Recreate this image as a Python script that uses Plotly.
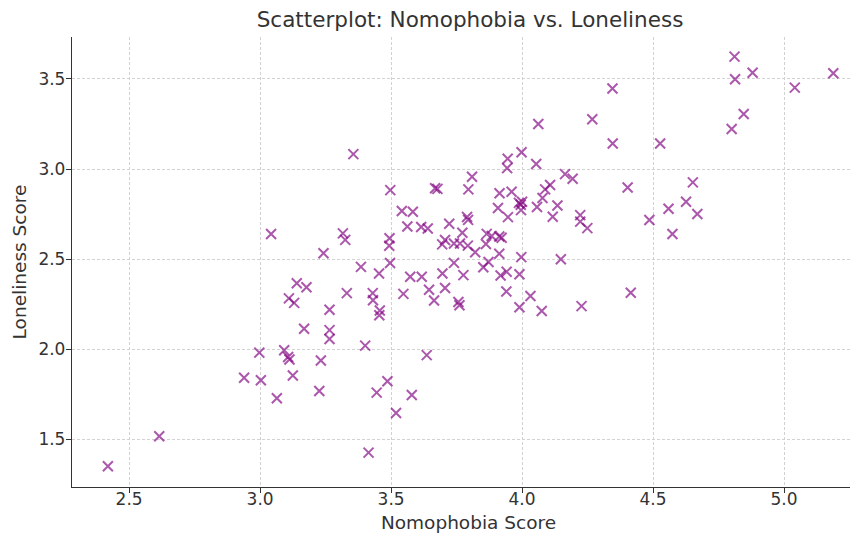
import plotly.graph_objects as go

nomophobia = [
    2.419, 2.615, 2.939, 3.003, 2.997, 3.064, 3.092, 3.107, 3.112, 3.125,
    3.226, 3.232, 3.414, 3.519, 3.579, 3.445, 3.486, 3.636, 3.401, 3.168,
    3.265, 3.265, 3.265, 3.110, 3.130, 3.140, 3.177, 3.242, 3.042, 3.316,
    3.325, 3.331, 3.385, 3.430, 3.431, 3.454, 3.457, 3.455, 3.356, 3.497,
    3.494, 3.493, 3.496, 3.541, 3.583, 3.562, 3.615, 3.640, 3.547, 3.573,
    3.617, 3.645, 3.664, 3.757, 3.761, 3.668, 3.677, 3.722, 3.706, 3.695,
    3.696, 3.706, 3.740, 3.763, 3.740, 3.772, 3.776, 3.790, 3.794, 3.793,
    3.809, 3.795, 3.821, 3.865, 3.884, 3.913, 3.922, 3.862, 3.913, 3.872,
    3.852, 3.941, 3.918, 3.990, 3.997, 3.940, 4.032, 3.990, 4.075, 3.914,
    3.960, 3.908, 3.946, 3.945, 3.943, 3.998, 4.054, 4.062, 3.988, 3.995,
    4.000, 3.996, 4.057, 4.078, 4.088, 4.107, 4.135, 4.117, 4.164, 4.193,
    4.148, 4.222, 4.222, 4.249, 4.227, 4.268, 4.345, 4.346, 4.403, 4.415,
    4.486, 4.527, 4.559, 4.574, 4.626, 4.652, 4.669, 4.800, 4.811, 4.813,
    4.846, 4.880, 5.041, 5.188,
]
loneliness = [
    1.350, 1.517, 1.841, 1.828, 1.981, 1.728, 1.994, 1.957, 1.943, 1.854,
    1.768, 1.937, 1.426, 1.646, 1.746, 1.759, 1.822, 1.967, 2.020, 2.113,
    2.106, 2.057, 2.219, 2.282, 2.257, 2.366, 2.344, 2.533, 2.639, 2.643,
    2.607, 2.311, 2.457, 2.311, 2.272, 2.420, 2.215, 2.188, 3.083, 2.883,
    2.616, 2.574, 2.478, 2.767, 2.763, 2.681, 2.678, 2.670, 2.307, 2.402,
    2.402, 2.330, 2.270, 2.262, 2.244, 2.893, 2.890, 2.696, 2.606, 2.582,
    2.420, 2.340, 2.587, 2.587, 2.479, 2.646, 2.411, 2.734, 2.718, 2.575,
    2.957, 2.887, 2.538, 2.640, 2.628, 2.626, 2.619, 2.584, 2.530, 2.484,
    2.455, 2.430, 2.409, 2.416, 2.511, 2.320, 2.295, 2.233, 2.212, 2.866,
    2.874, 2.784, 2.733, 3.057, 3.005, 3.093, 3.028, 3.250, 2.812, 2.802,
    2.818, 2.772, 2.789, 2.839, 2.887, 2.911, 2.798, 2.735, 2.972, 2.946,
    2.499, 2.744, 2.708, 2.672, 2.239, 3.276, 3.447, 3.142, 2.898, 2.313,
    2.717, 3.142, 2.780, 2.639, 2.818, 2.926, 2.750, 3.222, 3.624, 3.498,
    3.306, 3.535, 3.452, 3.532,
]

title_text = "Scatterplot: Nomophobia vs. Loneliness"
x_title = "Nomophobia Score"
y_title = "Loneliness Score"

fig = go.Figure()
fig.add_trace(go.Scatter(
    x=nomophobia, y=loneliness, mode="markers",
    marker=dict(symbol="x-thin", size=10,
                line=dict(width=2, color="rgba(128,0,128,0.66)"),
                color="rgba(128,0,128,0.66)"),
    hoverinfo="x+y", showlegend=False,
))

font_family = "DejaVu Sans, sans-serif"
axis_common = dict(
    showgrid=True, gridcolor="#d2d2d2", griddash="3px,2px", gridwidth=0.8,
    showline=True, linecolor="#333333", linewidth=1.3,
    ticks="outside", ticklen=5, tickcolor="#333333", tickwidth=1,
    zeroline=False, tickfont=dict(size=17, color="#333333", family=font_family),
    mirror=False, automargin=False,
)
# the page body adds an 8px offset; margins compensate so the plot area
# lands at x 72..(right edge), y 37..487 of the window
fig.update_layout(
    width=858, height=535,
    margin=dict(l=64, r=1, t=29, b=56),
    paper_bgcolor="white", plot_bgcolor="white",
    title=dict(text=title_text, x=0.5385, xanchor="center", y=0.978, yanchor="middle",
               font=dict(size=21.5, color="#333333", family=font_family)),
    font=dict(family=font_family, color="#333333"),
    xaxis=dict(axis_common, range=[2.282, 5.309], tick0=2.5, dtick=0.5, tickformat=".1f",
               ticklabelstandoff=-9,
               title=dict(text=x_title, font=dict(size=18.5, color="#333333"), standoff=8)),
    yaxis=dict(axis_common, range=[1.235, 3.733], tick0=1.5, dtick=0.5, tickformat=".1f",
               ticklabelstandoff=-3,
               title=dict(text=y_title, font=dict(size=18.5, color="#333333"), standoff=6)),
)
fig.write_html("out.html", default_width="858px", default_height="535px")
